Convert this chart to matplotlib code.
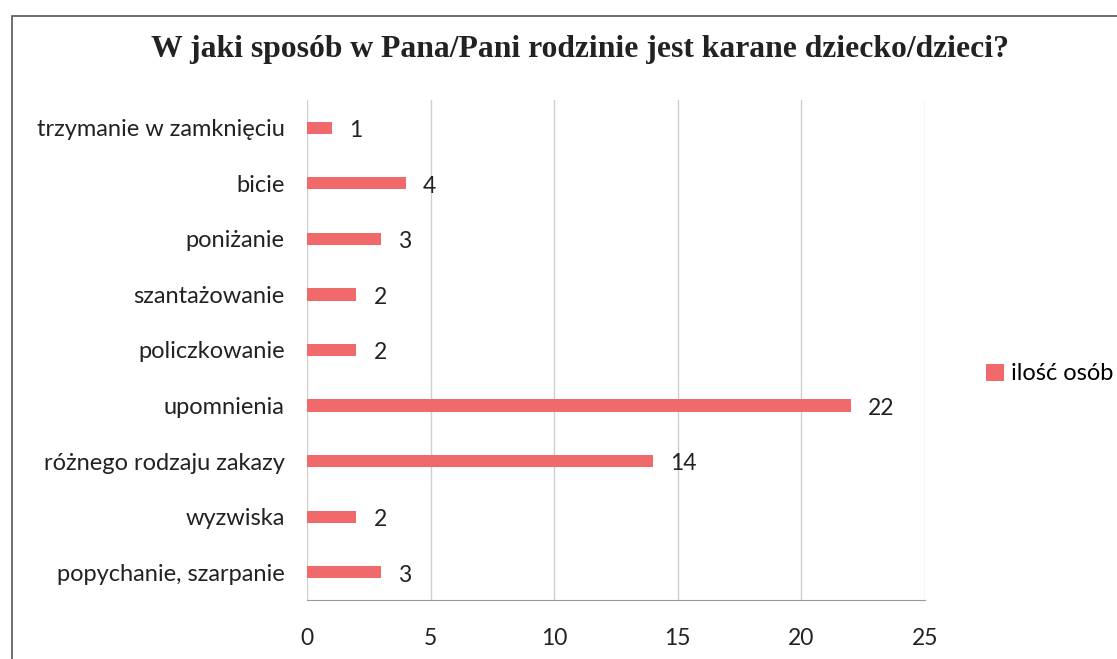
import matplotlib
matplotlib.use("Agg")
import matplotlib.pyplot as plt
from matplotlib.patches import Rectangle

categories = ["trzymanie w zamknięciu", "bicie", "poniżanie", "szantażowanie",
              "policzkowanie", "upomnienia", "różnego rodzaju zakazy", "wyzwiska",
              "popychanie, szarpanie"]
values = [1, 4, 3, 2, 2, 22, 14, 2, 3]
series_name = "ilość osób"
title = "W jaki sposób w Pana/Pani rodzinie jest karane dziecko/dzieci?"
xticks = [0, 5, 10, 15, 20, 25]

W, H = 1117, 659
fig = plt.figure(figsize=(W / 100, H / 100), dpi=100)
ax = fig.add_axes([307 / W, 1 - 600 / H, (925 - 307) / W, 500 / H])

color = "#f06a6c"
fs = 16.5
ypos = list(range(len(categories)))[::-1]
bars = ax.barh(ypos, values, height=0.22, color=color, label=series_name)
for y, v in zip(ypos, values):
    ax.text(v + 0.7, y - 0.05, str(v), va="center", ha="left",
            fontsize=fs, family="Lato", color="#222222")

ax.set_xlim(0, 25)
ax.set_ylim(-0.5, len(categories) - 0.5)
ax.set_xticks(xticks)
ax.set_xticklabels([str(t) for t in xticks], fontsize=fs, family="Lato", color="#222222")
ax.set_yticks(ypos)
ax.set_yticklabels(categories, fontsize=17, family="Lato", color="#222222")
ax.tick_params(axis="x", length=0, pad=20)
ax.tick_params(axis="y", length=0, pad=16)
ax.grid(axis="x", color="#cfcfcf", linewidth=1)
ax.set_axisbelow(True)
for s in ["top", "right", "left"]:
    ax.spines[s].set_visible(False)
ax.spines["bottom"].set_color("#9a9a9a")
ax.spines["bottom"].set_linestyle((0, (3, 1)))

fig.text(580 / W, 1 - 50 / H, title, ha="center", va="center",
         fontsize=22.8, fontweight="bold", family="Liberation Serif", color="#222222")

leg = fig.legend(handles=[bars], labels=[series_name], loc="center left",
                 bbox_to_anchor=(965 / W, 1 - 374 / H), frameon=False,
                 prop={"family": "Lato", "size": 17}, handlelength=0.75,
                 handleheight=0.75, handletextpad=0.3)

frame = Rectangle((12 / W, -0.02), 1.05, 1 - 16 / H + 0.02, transform=fig.transFigure,
                  fill=False, edgecolor="#555555", linewidth=1.2)
fig.add_artist(frame)

fig.savefig("out.png", dpi=100)
